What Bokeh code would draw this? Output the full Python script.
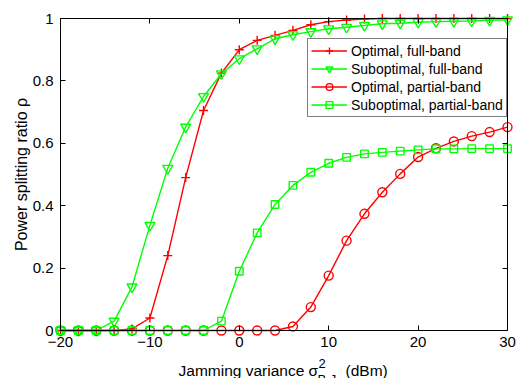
from bokeh.plotting import figure
from bokeh.models import LinearAxis, FixedTicker, Label, Range1d, Legend, LegendItem
from bokeh.embed import file_html
from bokeh.resources import INLINE

# ---- data ----
x_db = list(range(-20, 31, 2))
opt_full = [0, 0, 0, 0, 0.005, 0.04, 0.24, 0.49, 0.705, 0.825, 0.90, 0.93, 0.946,
            0.962, 0.98, 0.99, 0.995, 0.998, 1, 1, 1, 1, 1, 1, 1, 1]
sub_full = [0, 0, 0, 0.03, 0.14, 0.337, 0.52, 0.652, 0.75, 0.823, 0.871, 0.903, 0.935,
            0.948, 0.958, 0.967, 0.972, 0.978, 0.983, 0.985, 0.988, 0.99, 0.991, 0.992, 0.994, 0.996]
opt_partial = [0, 0, 0, 0, 0, 0, 0, 0, 0, 0, 0, 0, 0,
               0.013, 0.075, 0.176, 0.288, 0.374, 0.443, 0.502, 0.556, 0.584, 0.606, 0.623, 0.636, 0.652]
sub_partial = [0, 0, 0, 0, 0, 0, 0, 0, 0, 0.03, 0.19, 0.313, 0.404,
               0.465, 0.507, 0.536, 0.555, 0.566, 0.571, 0.575, 0.579, 0.582, 0.582, 0.583, 0.583, 0.583]
series_names = ["Optimal, full-band", "Suboptimal, full-band",
                "Optimal, partial-band", "Suboptimal, partial-band"]
x_ticks = [-20, -10, 0, 10, 20, 30]
x_tick_labels = ["\u221220", "\u221210", "0", "10", "20", "30"]
y_ticks = [0, 0.2, 0.4, 0.6, 0.8, 1]
y_tick_labels = ["0", "0.2", "0.4", "0.6", "0.8", "1"]
x_title_parts = ["Jamming variance \u03c3", "2", "B,J", "(dBm)"]
y_title = "Power splitting ratio \u03c1"

FONT = "Liberation Sans"
RED = "#ff0000"
GREEN = "#00ff00"
LW = 1.4
X0, X1 = -20, 30
Y0, Y1 = 0, 1
W, H = 517, 378
BOX_L, BOX_R, BOX_T, BOX_B = 60, 507, 18, 330      # pixel box of the axes
PX_X = (BOX_R - BOX_L) / (X1 - X0)
PX_Y = (BOX_B - BOX_T) / (Y1 - Y0)

# The frame covers the whole canvas; the axes box is drawn with fixed-location axes.
xr = Range1d(X0 - BOX_L / PX_X, X1 + (W - BOX_R) / PX_X)
yr = Range1d(Y0 - (H - BOX_B) / PX_Y, Y1 + BOX_T / PX_Y)

p = figure(width=W, height=H, x_range=xr, y_range=yr,
           output_backend="svg", toolbar_location=None,
           min_border_left=0, min_border_right=0, min_border_top=0, min_border_bottom=0)
p.xgrid.visible = False
p.ygrid.visible = False
p.outline_line_color = None
p.background_fill_color = "white"
p.border_fill_color = "white"

def style_axis(ax, ticks, labels, show_labels=True):
    ax.ticker = FixedTicker(ticks=ticks)
    ax.minor_tick_line_color = None
    ax.major_tick_in = 5
    ax.major_tick_out = 0
    ax.major_tick_line_color = "black"
    ax.axis_line_color = "black"
    ax.axis_line_width = 1
    ax.major_label_text_font = FONT
    ax.major_label_text_color = "black"
    ax.major_label_text_font_size = "15px"
    if show_labels:
        ax.major_label_overrides = dict(zip(ticks, labels))
    else:
        ax.major_label_overrides = {t: "" for t in ticks}
        ax.major_label_standoff = 0

xa = p.xaxis[0]
style_axis(xa, x_ticks, x_tick_labels)
xa.fixed_location = Y0
xa.bounds = (X0, X1)
xa.major_label_standoff = 6

ya = p.yaxis[0]
style_axis(ya, y_ticks, y_tick_labels)
ya.fixed_location = X0
ya.bounds = (Y0, Y1)
ya.major_label_standoff = 7
ya.axis_label = y_title
ya.axis_label_text_font = FONT
ya.axis_label_text_font_size = "16px"
ya.axis_label_text_font_style = "normal"
ya.axis_label_text_color = "black"
ya.axis_label_standoff = 0

top = LinearAxis(fixed_location=Y1, bounds=(X0, X1))
style_axis(top, x_ticks, x_tick_labels, show_labels=False)
p.add_layout(top, "above")
right = LinearAxis(fixed_location=X1, bounds=(Y0, Y1))
style_axis(right, y_ticks, y_tick_labels, show_labels=False)
p.add_layout(right, "right")

# ---- series ----
r1l = p.line(x_db, opt_full, line_color=RED, line_width=LW)
r1m = p.scatter(x_db, opt_full, marker="cross", size=9, line_color=RED, line_width=LW)
r2l = p.line(x_db, sub_full, line_color=GREEN, line_width=LW)
r2m = p.scatter(x_db, sub_full, marker="inverted_triangle", size=10, line_color=GREEN,
                fill_color=None, line_width=LW)
r3l = p.line(x_db, opt_partial, line_color=RED, line_width=LW)
r3m = p.scatter(x_db, opt_partial, marker="circle", size=9, line_color=RED,
                fill_color=None, line_width=LW)
r4l = p.line(x_db, sub_partial, line_color=GREEN, line_width=LW)
r4m = p.scatter(x_db, sub_partial, marker="square", size=7.5, line_color=GREEN,
                fill_color=None, line_width=LW)

legend = Legend(items=[
    LegendItem(label=series_names[0], renderers=[r1l, r1m]),
    LegendItem(label=series_names[1], renderers=[r2l, r2m]),
    LegendItem(label=series_names[2], renderers=[r3l, r3m]),
    LegendItem(label=series_names[3], renderers=[r4l, r4m]),
], location=(307, H - 117))
legend.border_line_color = "black"
legend.border_line_width = 1
legend.background_fill_color = "white"
legend.background_fill_alpha = 1
legend.label_text_font = FONT
legend.label_text_font_size = "14px"
legend.label_text_color = "black"
legend.glyph_width = 36
legend.glyph_height = 17
legend.label_height = 17
legend.spacing = 1
legend.padding = 3
legend.label_standoff = 4
legend.margin = 0
p.add_layout(legend, "center")

# ---- x-axis title: sigma with superscript 2 and subscript B,J ----
title_layout = [  # (x in dB, y in rho units, font size)
    (-6.80, -40.0 / PX_Y, "15.5px"),
    (8.86, -33.0 / PX_Y, "13px"),
    (8.75, -49.3 / PX_Y, "13px"),
    (11.88, -40.0 / PX_Y, "15.5px"),
]
for txt, (tx, ty, fs) in zip(x_title_parts, title_layout):
    p.add_layout(Label(x=tx, y=ty, text=txt, text_font=FONT, text_font_size=fs,
                       text_color="black", text_align="left", text_baseline="alphabetic"))

open("out.html", "w").write(file_html(p, INLINE))
